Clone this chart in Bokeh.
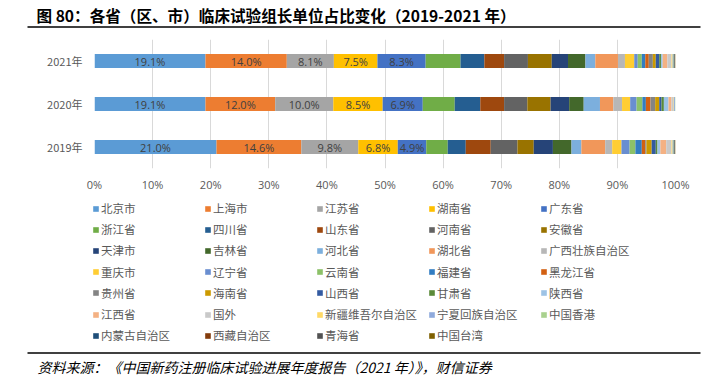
from bokeh.plotting import figure
from bokeh.layouts import column
from bokeh.models import FactorRange, Range1d, Legend, LegendItem, ColumnDataSource
from bokeh.core.properties import value
from bokeh.embed import file_html
from bokeh.resources import INLINE

years = ["2019年", "2020年", "2021年"]
regions = ["北京市", "上海市", "江苏省", "湖南省", "广东省",
           "浙江省", "四川省", "山东省", "河南省", "安徽省",
           "天津市", "吉林省", "河北省", "湖北省", "广西壮族自治区",
           "重庆市", "辽宁省", "云南省", "福建省", "黑龙江省",
           "贵州省", "海南省", "山西省", "甘肃省", "陕西省",
           "江西省", "国外", "新疆维吾尔自治区", "宁夏回族自治区", "中国香港",
           "内蒙古自治区", "西藏自治区", "青海省", "中国台湾"]
v2019 = [21.0, 14.6, 9.8, 6.8, 4.9,
         3.7, 3.1, 4.3, 4.6, 2.8,
         3.3, 3.2, 1.7, 4.1, 1.2,
         1.6, 1.4, 1.0, 1.1, 0.6,
         0.2, 0.9, 0.7, 0.3, 0.5,
         1.0, 0.9, 0.2, 0.1, 0.1,
         0.1, 0.0, 0.1, 0.1]
v2020 = [19.1, 12.0, 10.0, 8.5, 6.9,
         5.5, 4.4, 4.1, 4.0, 4.0,
         3.2, 2.5, 2.8, 2.3, 1.5,
         1.4, 1.1, 1.0, 0.6, 0.8,
         0.8, 0.7, 0.4, 0.4, 0.8,
         0.5, 0.3, 0.1, 0.2, 0.1,
         0.0, 0.0, 0.0, 0.0]
v2021 = [19.1, 14.0, 8.1, 7.5, 8.3,
         6.0, 4.1, 3.4, 4.1, 4.1,
         2.8, 3.0, 1.7, 3.9, 1.2,
         1.6, 0.6, 0.7, 0.6, 0.6,
         0.7, 0.5, 0.6, 0.3, 0.3,
         0.8, 0.7, 0.2, 0.1, 0.1,
         0.1, 0.0, 0.1, 0.1]
colors = ["#5B9BD5", "#ED7D31", "#A5A5A5", "#FFC000", "#4472C4",
          "#70AD47", "#255E91", "#9E480E", "#636363", "#997300",
          "#264478", "#43682B", "#7CAFDD", "#F1975A", "#B7B7B7",
          "#FFCD33", "#698ED0", "#8CC168", "#327DC2", "#D26012",
          "#848484", "#CC9A00", "#335AA1", "#5A8A39", "#9DC3E6",
          "#F4B183", "#C9C9C9", "#FFD966", "#8FAADC", "#A9D18E",
          "#1F4E79", "#843C0C", "#525252", "#7F6000"]
x_ticks = [0, 10, 20, 30, 40, 50, 60, 70, 80, 90, 100]
x_tick_labels = ["0%", "10%", "20%", "30%", "40%", "50%", "60%", "70%", "80%", "90%", "100%"]
labeled_count = 5
legend_cols = 5
title_text = "图 80：各省（区、市）临床试验组长单位占比变化（2019-2021 年）"
source_text = "资料来源：《中国新药注册临床试验进展年度报告（2021 年）》，财信证券"

CJK = "Noto Sans CJK SC"
W = 712


def strip_fig(h, **kw):
    kw.setdefault("x_range", Range1d(0, W))
    kw.setdefault("y_range", Range1d(h, 0))
    f = figure(width=W, height=h, x_axis_type=None, y_axis_type=None,
               output_backend="svg", toolbar_location=None, min_border=0,
               frame_align=False, **kw)
    f.outline_line_color = None
    f.xgrid.visible = False
    f.ygrid.visible = False
    f.background_fill_color = "white"
    f.border_fill_color = "white"
    return f


# ---- title strip ----
pt = strip_fig(32)
pt.text(x=[36], y=[14], text=[title_text], text_font=value(CJK), text_font_size="15.6px",
        text_font_style="bold", text_baseline="middle", text_color="black")
pt.segment(x0=[27], y0=[26.5], x1=[700], y1=[26.5], line_color="black", line_width=1.5)

# ---- main chart ----
data = {"year": years}
for i, r in enumerate(regions):
    data[r] = [v2019[i], v2020[i], v2021[i]]
src = ColumnDataSource(data)

p = figure(width=W, height=163, y_range=FactorRange(factors=years), x_range=(0, 100),
           output_backend="svg", toolbar_location=None, frame_align=False,
           min_border_left=94, min_border_right=37, min_border_top=7, min_border_bottom=27)
p.background_fill_color = "white"
p.border_fill_color = "white"
p.outline_line_color = None

renderers = p.hbar_stack(regions, y="year", height=0.32, color=colors, source=src,
                         line_color=None)

lab_x, lab_y, lab_t = [], [], []
for yr, vals in zip(years, [v2019, v2020, v2021]):
    cum = 0.0
    for k in range(labeled_count):
        lab_x.append(cum + vals[k] / 2)
        lab_y.append(yr)
        lab_t.append(f"{vals[k]:.1f}%")
        cum += vals[k]
p.text(x=lab_x, y=lab_y, text=lab_t, text_align="center", text_baseline="middle",
       text_font_size="11px", text_color="#404040", text_font=value("Open Sans"))

p.xaxis.ticker = x_ticks
p.xaxis.major_label_overrides = {t: l for t, l in zip(x_ticks, x_tick_labels)}
for ax in (p.xaxis[0], p.yaxis[0]):
    ax.axis_line_color = None
    ax.major_tick_line_color = None
    ax.minor_tick_line_color = None
    ax.major_tick_out = 0
    ax.major_tick_in = 0
    ax.minor_tick_out = 0
    ax.major_label_text_color = "#595959"
    ax.major_label_text_font_size = "11px"
p.xaxis.major_label_text_font = "Open Sans"
p.yaxis.major_label_text_font = CJK
p.xaxis.major_label_standoff = 8
p.yaxis.major_label_standoff = 12
p.xgrid.grid_line_color = "#D9D9D9"
p.ygrid.grid_line_color = None

# ---- legend strip: hidden copies of the series act as legend swatch sources ----
LH = 151
pl = strip_fig(LH, x_range=Range1d(0, 100), y_range=FactorRange(factors=years))
swatches = pl.hbar_stack(regions, y="year", height=0.32, color=colors, source=src,
                         line_color=None)
for r in swatches:
    r.visible = False
for row, row_start in enumerate(range(0, len(regions), legend_cols)):
    row_items = [LegendItem(label=regions[i], renderers=[swatches[i]])
                 for i in range(row_start, min(row_start + legend_cols, len(regions)))]
    lg = Legend(items=row_items, location=(92, LH - 21 - 21.2 * row),
                orientation="horizontal",
                glyph_width=7, glyph_height=7, label_standoff=2, label_width=96,
                label_height=15, spacing=7, padding=0, margin=0,
                border_line_color=None, background_fill_alpha=0,
                inactive_fill_alpha=0,
                label_text_font_size="11.5px", label_text_color="#595959",
                label_text_font=CJK)
    pl.add_layout(lg)

# ---- source strip ----
ps = strip_fig(31)
ps.segment(x0=[27], y0=[6.5], x1=[700], y1=[6.5], line_color="black", line_width=1.5)
ps.text(x=[37], y=[20], text=[source_text], text_font=value(CJK), text_font_size="14px",
        text_font_style="italic", text_baseline="middle", text_color="black")

layout = column(pt, p, pl, ps, spacing=0)
open("out.html", "w").write(file_html(layout, INLINE))
